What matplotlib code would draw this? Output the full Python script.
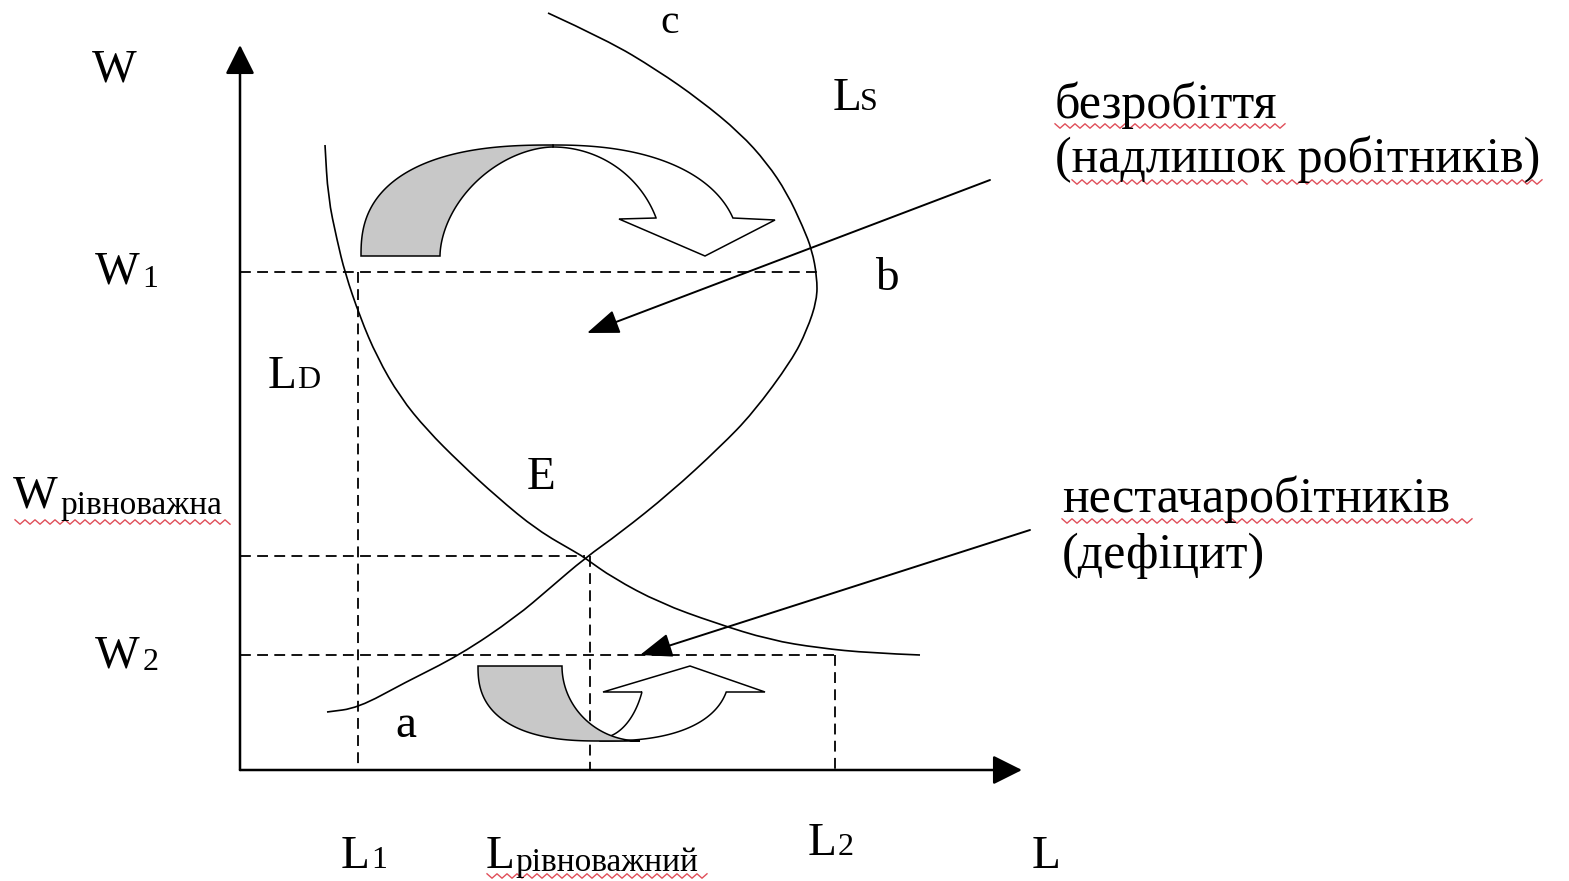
import numpy as np
import matplotlib.pyplot as plt
from matplotlib.patches import Polygon, PathPatch
from matplotlib.path import Path

plt.rcParams['font.family'] = ['Liberation Serif', 'DejaVu Serif']

# ── data (units: L to the right, W up; origin = corner of the axes) ─────────
demand_L = [85, 88, 97, 105, 120, 137, 160, 187, 220, 257, 297, 337, 345,
            373, 420, 475, 530, 579, 630, 680]
demand_W = [625, 573, 530, 497, 453, 413, 373, 340, 307, 273, 240, 217, 212,
            192, 167, 147, 130, 122, 117, 115]

# backward-bending labour supply (a -> E -> b -> c)
supply_L = [87, 118, 164, 220, 276, 310, 345, 380, 430, 480, 513, 552, 567, 577,
            577, 572, 563, 547, 527, 500, 460, 417, 367, 308]
supply_W = [58, 62, 87, 115, 153, 182, 212, 237, 277, 323, 357, 410, 440, 470,
            493, 520, 543, 577, 607, 637, 670, 700, 730, 757]

W1, W_EQ, W2 = 498, 214, 115
L1, L_EQ, L2 = 118, 350, 595
L_B, L_E = 578, 345

GRAY = "#C8C8C8"
SQUIGGLE = "#E0505A"

fig = plt.figure(figsize=(15.69, 8.81), dpi=100)
ax = fig.add_axes([0, 0, 1, 1])
ax.set_xlim(-240, 1329)
ax.set_ylim(-111, 770)
ax.axis("off")

# axes with arrow heads
ax_arrow = dict(arrowstyle="-|>,head_length=0.6,head_width=0.3", mutation_scale=30,
                lw=1.8, color="black", shrinkA=0, shrinkB=0)
ax.annotate("", xy=(0, 725), xytext=(0, 0), arrowprops=ax_arrow)
ax.annotate("", xy=(782, 0), xytext=(0, 0), arrowprops=ax_arrow)

# dashed guides
dash = dict(color="black", lw=1.3, ls=(0, (6, 3.5)))
ax.plot([0, L_B], [W1, W1], **dash)
ax.plot([L1, L1], [W1, 0], **dash)
ax.plot([0, L_E], [W_EQ, W_EQ], **dash)
ax.plot([L_EQ, L_EQ], [W_EQ, 0], **dash)
ax.plot([0, L2], [W2, W2], **dash)
ax.plot([L2, L2], [W2, 0], **dash)


# curves, drawn as a quadratic spline through the read points
def smooth(xs, ys):
    p = np.column_stack([xs, ys]).astype(float)
    verts = [p[0], (p[0] + p[1]) / 2]
    codes = [Path.MOVETO, Path.LINETO]
    for i in range(1, len(p) - 1):
        end = (p[i] + p[i + 1]) / 2 if i < len(p) - 2 else p[-1]
        verts += [p[i], end]
        codes += [Path.CURVE3, Path.CURVE3]
    return Path(verts, codes)


for xs, ys in [(demand_L, demand_W), (supply_L, supply_W)]:
    ax.add_patch(PathPatch(smooth(xs, ys), fc="none", ec="black", lw=1.2))


# ── curved block arrows ─────────────────────────────────────────────────────
def arc(cx, cy, a, b, t0, t1, n=2.0, num=80):
    t = np.linspace(t0, t1, num)
    c, s = np.cos(t), np.sin(t)
    x = cx + a * np.sign(c) * np.abs(c) ** (2 / n)
    y = cy + b * np.sign(s) * np.abs(s) ** (2 / n)
    return np.column_stack([x, y])


def t_at(dy, b, n):
    return np.arcsin(np.clip(abs(dy) / b, 0, 1) ** (n / 2))


# top arrow (surplus of workers): gray back, white front, head pointing down
cx, cy = 313, 514
t_end = t_at(38, 111, 2.3)
front = np.vstack([
    arc(cx, cy, 187, 111, np.pi / 2, t_end, n=2.3),
    [[535, 550], [465, 514], [379, 551], [416, 552]],
    arc(cx, cy, 110, 109, np.arccos(103 / 110), np.pi / 2),
])
back = np.vstack([
    arc(cx, cy, 192, 111, np.pi, np.pi / 2, n=2.5),
    arc(cx, cy, 113, 109, np.pi / 2, np.pi, n=1.8),
])
ax.add_patch(Polygon(front, closed=True, fc="white", ec="black", lw=1.1, zorder=3))
ax.add_patch(Polygon(back, closed=True, fc=GRAY, ec="black", lw=1.1, zorder=4))

# bottom arrow (shortage of workers): head pointing up
cx, cy = 360, 104
t_end = 2 * np.pi - t_at(26, 75, 2.5)
t_notch = np.arctan2(-32 / 78, 42 / 46) + 2 * np.pi
front = np.vstack([
    arc(cx, cy, 130, 75, 1.5 * np.pi, t_end, n=2.5),
    [[525, 78], [450, 104], [363, 78], [402, 78]],
    arc(cx, 110, 46, 78, t_notch, 1.5 * np.pi),
])
back = np.vstack([
    arc(cx, cy, 122, 75, np.pi, 1.5 * np.pi, n=2.5),
    arc(400, cy, 78, 75, 1.5 * np.pi, np.pi),
])
ax.add_patch(Polygon(front, closed=True, fc="white", ec="black", lw=1.1, zorder=3))
ax.add_patch(Polygon(back, closed=True, fc=GRAY, ec="black", lw=1.1, zorder=4))

# pointer arrows
ptr = dict(arrowstyle="-|>,head_length=0.8,head_width=0.3", mutation_scale=25,
           lw=1.4, color="black", shrinkA=0, shrinkB=0)
ax.annotate("", xy=(347, 437), xytext=(750, 590), arrowprops=ptr, zorder=5)
ax.annotate("", xy=(400, 115), xytext=(790, 240), arrowprops=ptr, zorder=5)

# ── labels ──────────────────────────────────────────────────────────────────
BIG, SUB, NOTE, TINY = 34, 23, 36, 24


def label(x, y, s, size=BIG):
    ax.text(x, y, s, fontsize=size, ha="left", va="baseline")


label(-148, 688, "W")
label(-145, 487, "W"); label(-98, 483, "1", SUB)
label(28, 382, "L"); label(57, 382, "D", SUB)
label(-227, 263, "W"); label(-180, 256, "рівноважна", TINY)
label(-145, 103, "W"); label(-97, 100, "2", SUB)
label(101, -98, "L"); label(131, -98, "1", SUB)
label(246, -98, "L"); label(275, -101, "рівноважний", TINY)
label(568, -85, "L"); label(598, -85, "2", SUB)
label(792, -98, "L")
label(420, 737, "c", 30)
label(593, 660, "L"); label(620, 660, "S", SUB)
label(635, 480, "b")
label(287, 281, "E")
label(155, 33, "a")

label(815, 652, "безробіття", NOTE)
label(815, 598, "(надлишок робітників)", NOTE)
label(822, 258, "нестачаробітників", NOTE)
label(822, 202, "(дефіцит)", NOTE)


# spell-check underlines as in the source document
def squiggle(x0, x1, y):
    xs = np.arange(x0, x1, 5.0)
    ys = y + np.where(np.arange(len(xs)) % 2 == 0, 2.2, -2.2)
    ax.plot(xs, ys, color=SQUIGGLE, lw=1.0)


squiggle(815, 1050, 644)
squiggle(832, 1010, 588)
squiggle(1022, 1305, 588)
squiggle(822, 1235, 249)
squiggle(-225, -5, 248)
squiggle(247, 470, -106)

fig.savefig("out.png", dpi=100, facecolor="white")
